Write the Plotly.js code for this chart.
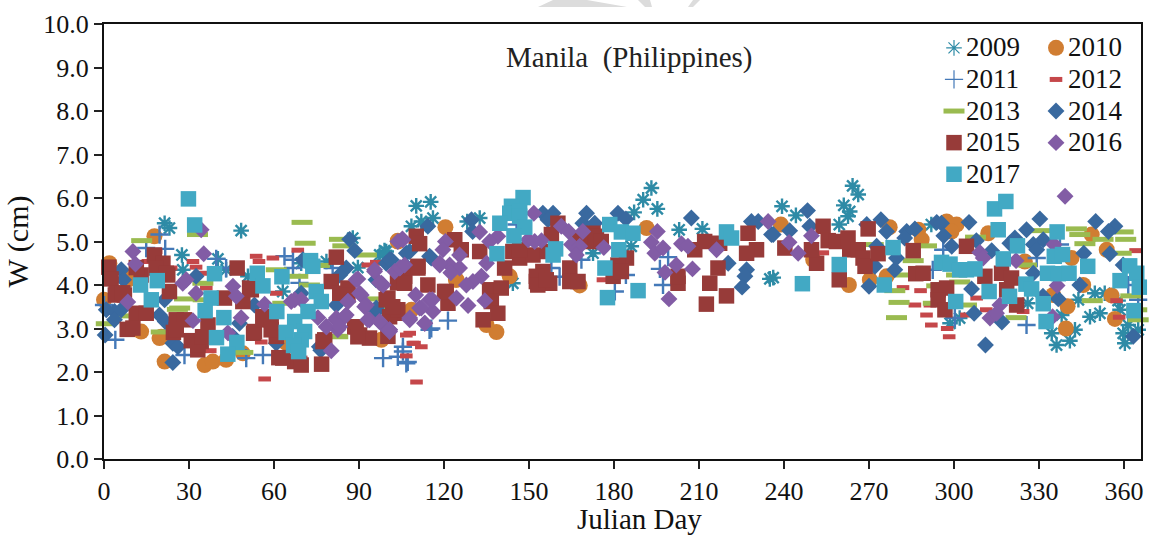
<!DOCTYPE html>
<html><head><meta charset="utf-8">
<script src="https://cdn.plot.ly/plotly-3.0.1.min.js"></script>
<style>html,body{margin:0;padding:0;background:#fff}#c{width:1155px;height:535px}
.legend .legendtext{font-size:27px !important}
.legend .legendsymbols{transform:translateX(8px)}
.legend .groups:first-of-type .traces:nth-child(1) .legendpoints path,
.legend .groups:first-of-type .traces:nth-child(2) .legendpoints path{stroke-width:1.2px !important}
</style>
</head><body><div id="c"></div>
<script>
const years = ['2009','2010','2011','2012','2013','2014','2015','2016','2017'];
const x2009 = [21.4,23.1,48.4,27.5,27.8,40.2,87.8,99,98.5,89.6,43.1,50.8,69.6,78.5,63.1,110.2,115.3,116.1,112,108.5,113.8,99.6,97.3,132.6,128.2,193.2,190.3,195.3,187.1,203,211.2,235,172.6,144.3,186.1,239.3,244.2,236.2,264.2,266.2,261.1,263.2,262.6,259.5,292,298.6,302,326,334.5,336.2,340.9,342.7,338,343.9,348,351.5,349.7,353.2,358.6,359.7,360.3,365,361.5,357.9];
const y2009 = [5.42,5.31,5.25,4.69,4.35,4.6,5.08,4.79,4.69,4.4,4.35,4.2,4.5,4.54,3.85,5.82,5.91,5.54,5.46,5.35,5.39,4.77,4.69,5.54,5.46,6.23,5.96,5.75,5.67,5.27,5.29,4.14,4.73,4.04,4.89,5.81,5.6,4.17,6.28,6.08,5.83,5.69,5.58,5.39,5.39,3.12,3.24,3.58,2.89,2.62,2.72,2.97,3.31,3.66,3.27,3.35,3.81,3.81,3.43,2.89,2.66,2.97,3.08,3.64];
const x2010 = [1.9,17.8,21.4,35.5,38.4,43.1,49,13.1,0,8.4,19.6,97.9,103.7,64.3,103.7,120.5,138.5,135,143.2,124.2,167.9,191.5,238.9,250.3,262.9,297.4,300.9,299.1,312.1,277.3,287.4,288.6,270.3,276.2,340.1,339.5,355.6,356.8,353.9,341.5,325,345.6,335,348.6,108.5,124.4,9.6,20.2];
const y2010 = [4.5,5.12,2.24,2.16,2.24,2.28,2.43,2.93,3.66,4.12,2.78,2.74,5,2.67,5.02,5.33,2.92,3.08,4.2,4.12,3.99,5.31,5.39,4.58,4,5.46,5.39,5.23,5.19,5.33,5.27,5.04,4.12,4.2,3.51,3,3.76,3.22,4.81,4.62,4.54,4,3.77,5.16,3.43,4.12,4.2,2.81];
const x2011 = [4,0,14.9,21.6,19.6,39.6,50.2,56.1,63.7,66.7,66.7,28.4,98.5,103.7,43.1,69,80.7,121.4,114.9,105.5,107.2,160.8,157.9,168.5,184.2,180.3,197.3,199.1,196.2,145.6,325.6,292.5,296.2,329.2,300.3,365,337.4,361.5,105.5,106.7,115.5];
const y2011 = [2.74,3.54,4.85,4.83,5.16,4.6,2.32,2.39,4.66,4.58,4.39,2.39,2.32,2.35,4.39,4.05,4.39,3.18,2.97,2.58,2.23,4.19,4.39,4.58,4.23,3.85,4,4.64,4.37,5.39,3.08,4.35,4.81,4.62,3.24,3.66,4.93,4,2.47,2.2,3];
const x2012 = [56.7,53.7,54.7,59.6,68.4,31.4,32.5,34.9,37.5,55.5,96.1,60.8,69.6,107.9,109.6,112,110.3,176.1,364.1,368,366.7,357.4,358.3,282,288.2,286.2,291.5,290.3,292,297.6,298.3,308,304.4,311.4,324.4,253.7,93.1,96.6,106.7,109,106.7,18.4,15.5,36.1,23.7];
const y2012 = [1.84,4.66,4.54,4.62,4.8,4.54,4.41,4.27,2.49,2.69,4.52,3.81,2.32,2.89,2.66,2.58,1.77,4.12,4.79,4.37,3.93,3.64,3.26,3.94,3.87,3.54,3.54,3.31,3.08,3,2.81,3.7,3.31,3.43,3.39,4.74,4.46,4.5,2.85,2.66,2.37,4.77,4.54,3.93,4.39];
const x2013 = [13.3,33,69.9,71,83.1,84.3,92.6,0.8,6.6,20.2,26.7,28.4,49,60.8,68.4,76,63.1,82,35,271.5,285.6,290.3,279.1,280.6,279.7,283.1,293.9,292.7,300.9,302,304.4,307.6,321.9,325.6,330.9,343.2,344.4,359.7,360.6,352.6,346.2,359,348.8,362.4,365,366.6,364.5,96.1,82.5,98.5,72.5,25.9,34.9];
const y2013 = [5.02,5.16,5.44,4.96,5.05,4.9,4.69,3.11,3.29,2.92,3.47,3.68,2.45,4.35,4.2,4.45,3.58,2.82,3.66,4.93,4.56,4.9,3.87,3.6,3.25,4.23,3.98,3.58,4.23,4.07,3.54,5.1,3.25,4.46,5.25,5.29,5.16,5.22,5.05,5.05,4.95,4.73,3.64,3.75,3.2,2.7,3.43,3.68,2.81,3.47,4,3.44,4.04];
const x2014 = [0.4,6.1,6.9,0.8,3.7,3.7,6.1,21.4,19.6,21.6,24.3,26.1,24.3,32.5,47.8,45.4,53.1,60.8,69.6,70.2,76,85.5,83.2,82,86.7,88.5,96.1,99.6,101.4,100.8,107.9,106.7,114.3,115.5,129.7,130.1,154.9,158.5,156.7,170.3,169,173.2,181.4,184.2,207.3,220.3,226.8,226.2,225.2,228.5,230.9,235.6,248.3,242,249.1,236.2,274.2,276.2,269.2,272.7,279.1,272.1,270,279.7,283.3,286.2,282.6,293.9,295.6,296.4,305.3,299.2,307.9,313.3,306.2,307.1,316.9,311.1,330.3,325.6,321.5,319.7,328,331.5,329.2,345.8,350,356.8,354.5,355,359.7,344.4,336.8,363.3,328,331.4,106.7,114.9,96,96.1,76.5];
const y2014 = [2.85,4.35,4.12,3.43,3.39,3.2,3.43,3.66,3.31,3.16,2.66,2.58,2.22,4.2,3.12,2.82,3.54,2.66,3.81,4.58,2.58,4.39,4.23,3.54,5.05,4.79,3.39,4.5,4.58,4.58,4.77,4.43,5.35,4.62,5.5,5.23,5.65,5.65,5.5,5.65,5.42,5.42,5.65,5.52,5.54,4.5,4.35,4.2,3.95,5.46,5.46,5.16,5.71,5.25,5.35,5.16,5.5,5.23,5.39,4.89,4.35,4.43,3.97,4.62,5.23,5.29,5.08,5.44,5.42,5.13,5.44,4.89,5.02,4.79,3.91,3.35,3.15,2.62,5.52,5.27,5.08,4.96,4.93,5.04,4.81,4.73,5.46,5.35,5.23,4.72,4.46,4,3.68,2.82,4.27,3.74,4.73,4.66,4.12,3.47,2.5];
const x2015 = [1.7,2.5,4,7.2,13.1,11.4,14.9,8.2,10.2,17.8,20.8,18.4,22.5,23.1,25.5,28.4,24.5,30.8,33.1,34.3,36.7,42.5,49,51.4,47,52.8,56.1,59,60.8,61.7,67.3,69.6,76.8,77.9,80.2,82,83.2,86.1,90.2,93.7,88.5,100.2,100.2,103.2,110.2,111.4,103.6,110.8,106.1,99.6,103.2,114.3,120.2,121.4,123.8,126.1,100.8,132.6,136.1,140.2,136.7,139,133.8,141.4,144.3,146.7,151.4,154.9,152.6,157.3,160.2,157.9,164.4,164.4,167.3,172.6,170.8,184.4,181.4,179.7,202.6,202.6,213.8,212.6,219.7,216.7,208.5,212,217.3,227.3,230.3,226.8,253.8,255.6,251.5,249.7,258.5,262.6,263.2,266.2,267.9,268.6,269.7,273.2,259.5,240.3,285.6,286.5,289.1,304.4,310.9,316.8,320.3,318.6,294.4,297.4,294.4,296.8,322.1,11.4,4.3,6.6,22,25.5,33.1,34.8,52,53.1,56.1,59,86.1,89,89.6,103.7,101.9,110.8,106.1,120.8,77.3,63.1,156.6,167.9,173.8,175.5,146.7,152.6,153.1,156.1,182.6];
const y2015 = [4.41,4.14,3.77,3.77,4.23,3.35,3.35,2.98,3.01,4.69,4.5,4.39,4.23,3.85,3.2,3.2,2.91,2.72,2.51,2.7,3.08,3.7,3.62,3.93,4.39,2.89,3.27,3.2,2.82,2.33,2.24,2.16,2.18,2.74,4.08,4.64,3.81,3.93,2.85,2.78,3.04,3.7,2.82,3.35,5.12,4.95,4.05,4.39,4.2,3.66,3.43,4,3.85,3.58,5.04,4.81,3.27,4.77,3.89,3.93,3.62,3.35,3.2,4.39,4.77,4.62,4.69,4.31,4.08,4.04,5.42,5.16,4.39,4.08,4.08,5.19,5,4.62,4.46,4.2,4.04,4.2,4.04,3.56,3.75,4.39,4.81,5,4.96,5.19,4.81,4.73,5.35,5.02,4.5,4.81,5,5.08,4.81,4.81,4.62,4.43,5.29,4.72,4.12,4.85,4.79,4.26,4.27,4.89,4.2,4.27,4.16,3.89,3.89,3.93,3.66,3.43,3.54,4.4,3.81,3.82,4.27,2.97,2.62,2.81,3.89,2.93,3.2,2.97,3.77,3.04,2.81,3.43,3.5,4.43,4.04,3.85,2.7,2.32,4.77,5.04,5.12,5,4.81,4.2,4,4.12,4.31];
const x2016 = [10.2,11.1,8.4,35.2,34.3,27.8,29,32.5,31.4,45.5,46.7,48.4,43.7,56.7,67.3,69.6,75.5,78.5,81.9,85.5,82.5,80.2,86.1,89.6,90.8,92.6,93.7,95.5,97.9,97.9,100.8,103.7,105.3,104.6,102.6,98.5,110,100.8,111.4,114.9,116.1,107.9,113.2,120.5,119.6,118.5,122,125.5,125.5,122.4,132.6,139,136.1,135,133.2,130.2,127.9,124.4,134.4,128.5,151.7,149.7,154.4,152,161.4,164,169,165,167.9,166.7,176.4,195.3,193.2,194.4,197.3,202,198,199.4,203.8,206.1,207.7,216.2,234.4,241.8,245,249.7,309.1,310.3,321.9,339.2,335.3,336.4,316.2,312.7,315,334.8,89,90.2,97.2,95.5,92,86.1,82,84.9,78.5,83.2,93.1,97.2,100.8,107.9,112,115.9,113.2,104.4,106.1,105.5,66.1,118.5];
const y2016 = [4.77,4.48,3.61,4.72,5.27,4.04,4.12,3.81,3.18,3.97,3.74,3.25,2.9,3.56,3.66,3.66,3.25,3.04,3.2,3.31,2.97,2.49,3.62,4.14,3.77,3.54,3.2,4.31,4.04,3.12,2.93,5,5.06,4.4,4.31,4,3.77,2.97,3.47,3.66,3.39,3.2,3.12,5,4.81,4.46,4.46,4.69,4.39,4.28,5.22,5.12,5,4.5,4.2,4.08,4,3.7,3.64,3.53,5.65,5.04,5.02,5,5.35,5.23,5.23,4.93,4.89,4.69,4.86,5.23,4.98,4.73,4.85,4.46,4.29,3.68,4.95,4.89,4.37,4.81,5.46,4.98,4.73,5.13,4.75,4.62,4.56,6.04,4.93,3.99,3.54,3.24,3.35,3.27,4.12,3.81,4.05,4.35,3.5,3.62,3.24,3.27,3.04,3.04,3.2,3.16,2.97,3.24,3.47,3.66,3.12,4.39,4.46,5.04,3.62,4.5];
const x2017 = [29.8,32,12.9,18.8,16.7,39,37.8,35.7,42.3,39.7,46.9,43.7,54.1,56.1,62.8,61,72.9,73.7,74.9,76.7,72,67.3,64.3,70.8,69.6,66.9,68.7,147.9,143.8,143.2,146.7,139.7,146.7,148.5,144.7,138.7,159.4,158.5,178.5,182.6,186.7,181.7,176.8,177.7,188.5,219.7,221.5,246.5,259.5,275.4,278.5,314.3,318.3,315.6,295.6,298.6,302,304.4,307.4,317.4,322.4,336.4,335.4,338.3,333,336.8,340.6,347.2,312.4,319.6,300.6,325.4,327.4,331.5,332.5,362,358.6,364.5,365.4,363.5];
const y2017 = [5.98,5.38,4,4.1,3.66,4.26,3.7,3.41,3.25,2.79,2.68,2.41,4.27,3.98,4.19,3.39,4.56,4.43,3.85,3.62,3.39,3.16,2.91,2.93,2.74,2.61,2.47,6.01,5.81,5.65,5.69,5.42,5.58,5.33,5.13,4.72,4.83,4.69,5.39,5.22,5.19,4.81,4.39,3.71,3.87,5.22,5.08,4.03,4.47,4,4.86,5.75,5.92,5.27,4.52,4.48,4.35,4.35,4.37,4.6,4.9,5.22,4.66,4.7,4.27,4.26,4.27,4.43,3.85,3.74,3.62,4.02,3.91,3.57,3.16,4.44,4.1,4.27,3.95,3.41];
const xTicks = [0,30,60,90,120,150,180,210,240,270,300,330,360];
const serif = '"Liberation Serif", "Times New Roman", serif';

function tr(i,x,y,marker){return {type:'scatter',mode:'markers',name:years[i],legendgroup:i%2?'even':'odd',x:x,y:y,marker:marker,cliponaxis:false};}
const line=(w,c)=>({width:w,color:c});
const traces=[
 tr(0,x2009,y2009,{symbol:'asterisk-open',size:13,color:'#2e8ba6',line:line(2.4,'#2e8ba6')}),
 tr(1,x2010,y2010,{symbol:'circle',size:16,color:'#d07d32'}),
 tr(2,x2011,y2011,{symbol:'cross-thin-open',size:13,color:'#4479b8',line:line(2.4,'#4479b8')}),
 tr(3,x2012,y2012,{symbol:'line-ew-open',size:9,color:'#c5474a',line:line(5,'#c5474a')}),
 tr(4,x2013,y2013,{symbol:'line-ew-open',size:15,color:'#9abb50',line:line(5,'#9abb50')}),
 tr(5,x2014,y2014,{symbol:'diamond',size:13,color:'#39699f'}),
 tr(6,x2015,y2015,{symbol:'square',size:15.5,color:'#973b39'}),
 tr(7,x2016,y2016,{symbol:'diamond',size:13,color:'#825ca5'}),
 tr(8,x2017,y2017,{symbol:'square',size:15.5,color:'#42a9c4'})
];
const mL=104,mR=14,mT=24,mB=76,W=1155,H=535;
const px=v=>(v-mL)/(W-mL-mR), py=v=>1+(mT-v)/(H-mT-mB);
const poly=pts=>({type:'path',xref:'paper',yref:'paper',line:{width:0},fillcolor:'#dcdcdc',layer:'below',
  path:'M'+pts.map(p=>px(p[0])+','+py(p[1])).join(' L')+' Z'});
const layout={
 width:W,height:H,margin:{l:mL,r:mR,t:mT,b:mB,autoexpand:false},paper_bgcolor:'#fff',plot_bgcolor:'#fff',
 font:{family:serif,size:26,color:'#111'},
 xaxis:{range:[0,366],tickmode:'array',tickvals:xTicks,ticks:'outside',ticklen:8,tickwidth:1.5,tickcolor:'#222',showgrid:false,zeroline:false,showline:true,linecolor:'#111',linewidth:2,mirror:true,tickfont:{size:26}},
 yaxis:{range:[0,10],dtick:1,tickformat:'.1f',ticks:'outside',ticklen:8,tickwidth:1.5,tickcolor:'#222',showgrid:false,zeroline:false,showline:true,linecolor:'#111',linewidth:2,mirror:true,tickfont:{size:26},
   title:{text:'W (cm)',font:{size:30},standoff:6}},
 showlegend:true,
 legend:{orientation:'h',x:px(1130),xanchor:'right',y:0.993,yanchor:'top',itemwidth:30,entrywidth:57,entrywidthmode:'pixels',bgcolor:'rgba(0,0,0,0)',font:{size:22},traceorder:'grouped',tracegroupgap:0},
 shapes:[poly([[538,7],[553,0],[587,0],[627,7]]),poly([[638,0],[650,0],[652,7],[645,7]]),poly([[688,7],[693,7],[700,0],[693,0]])],
 annotations:[
  {text:'Manila  (Philippines)',xref:'paper',yref:'paper',x:px(628.5),y:py(57),xanchor:'center',yanchor:'middle',showarrow:false,font:{size:29,color:'#222'}},
  {text:'Julian Day',xref:'paper',yref:'paper',x:px(639.5),y:py(519),xanchor:'center',yanchor:'middle',showarrow:false,font:{size:29,color:'#111'}}
 ]
};
Plotly.newPlot('c',traces,layout,{displayModeBar:false,responsive:false});
</script></body></html>
